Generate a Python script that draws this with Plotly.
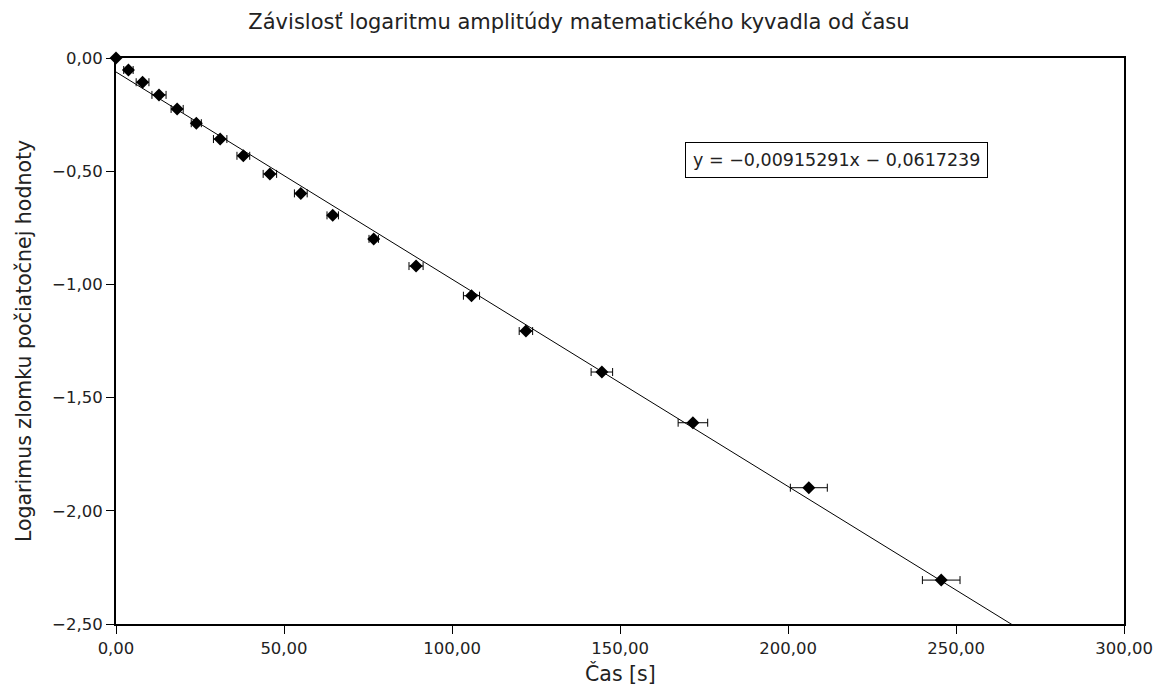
import plotly.graph_objects as go

time_s = [0.0, 3.7, 7.9, 12.8, 18.2, 23.9, 31.0, 37.9, 45.8, 55.0, 64.5, 76.7, 89.3, 105.8, 122.0, 144.6, 171.7, 206.2, 245.6]
log_amp = [0.0, -0.053, -0.107, -0.163, -0.225, -0.288, -0.358, -0.432, -0.512, -0.598, -0.695, -0.799, -0.919, -1.050, -1.206, -1.387, -1.611, -1.898, -2.306]
time_err = [0.0, 1.4, 1.9, 2.1, 1.8, 1.5, 2.0, 1.9, 2.0, 1.9, 1.7, 1.4, 2.1, 2.4, 2.0, 3.2, 4.4, 5.5, 5.6]

slope = -0.00915291
intercept = -0.0617239
fit_x = [0.0, 300.0]
fit_y = [slope * x + intercept for x in fit_x]

x_ticks = [0, 50, 100, 150, 200, 250, 300]
y_ticks = [0, -0.5, -1.0, -1.5, -2.0, -2.5]

FONT = "DejaVu Sans"

fig = go.Figure()
fig.add_trace(go.Scatter(
    x=fit_x, y=fit_y, mode="lines",
    line=dict(color="black", width=1), showlegend=False, hoverinfo="skip"))
fig.add_trace(go.Scatter(
    x=time_s, y=log_amp, mode="markers",
    marker=dict(symbol="diamond", size=10, color="black"),
    error_x=dict(type="data", array=time_err, color="black", thickness=1, width=4, visible=True),
    showlegend=False, cliponaxis=False))

axis_common = dict(
    showline=True, linecolor="black", linewidth=2, mirror=True,
    ticks="outside", ticklen=8, tickcolor="black", tickwidth=1,
    showgrid=False, zeroline=False, tickformat=".2f",
    tickfont=dict(family=FONT, size=16.5, color="#222"),
    automargin=False, ticklabeloverflow="allow",
)

fig.update_xaxes(range=[0, 300], tickvals=x_ticks, **axis_common)
fig.update_yaxes(range=[-2.5, 0], tickvals=y_ticks,
                 title=dict(text="Logarimus zlomku počiatočnej hodnoty", font=dict(family=FONT, size=20.5, color="#222")),
                 **axis_common)

fig.add_annotation(
    x=0.5, y=-0.0866, xref="paper", yref="paper",
    xanchor="center", yanchor="middle",
    text="Čas [s]", showarrow=False,
    font=dict(family=FONT, size=20.5, color="#222"))

fig.add_annotation(
    x=0.715, y=0.82, xref="paper", yref="paper",
    xanchor="center", yanchor="middle",
    text="y = −0,00915291x − 0,0617239", showarrow=False,
    font=dict(family=FONT, size=17.5, color="#222"),
    bordercolor="black", borderwidth=1, borderpad=7, bgcolor="white")

fig.update_layout(
    width=1158, height=687,
    margin=dict(l=116, r=34, t=58, b=63),
    paper_bgcolor="white", plot_bgcolor="white",
    separators=", ",
    title=dict(text="Závislosť logaritmu amplitúdy matematického kyvadla od času",
               x=0.5, xanchor="center", y=0.968, yanchor="middle",
               font=dict(family=FONT, size=21, color="#222")),
)

fig.write_html("out.html",
               config={"displayModeBar": False},
               post_script="document.body.style.margin='0';document.body.style.overflow='hidden';")
